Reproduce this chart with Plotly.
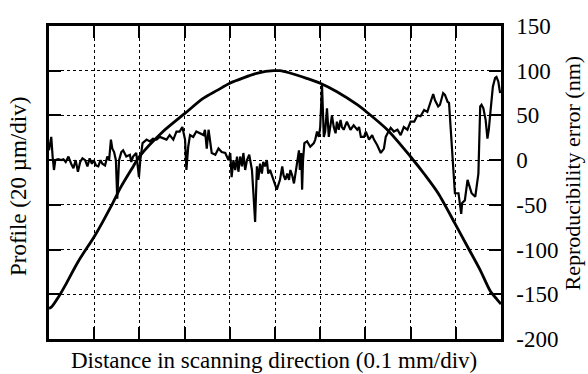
import plotly.graph_objects as go

# Profile curve (plotted in right-axis units), x in divisions (0.1 mm/div)
profile_x = [0.00, 0.06, 0.21, 0.36, 0.65, 1.02, 1.39, 1.58, 1.84, 2.00, 2.50, 3.00, 3.41, 3.72,
             4.00, 4.30, 4.64, 4.97, 5.11, 5.31, 5.70, 6.00, 6.37, 6.82, 7.00, 7.49, 8.00, 8.32,
             8.61, 8.98, 9.26, 9.54, 9.77, 9.91, 10.00]
profile_y = [-166, -164, -153, -140, -113, -84, -50, -31, -9, 4, 31, 52, 69, 78,
             86, 92, 97.7, 100, 100, 97.7, 91.5, 86, 76.5, 62, 55, 33.7, 3.8, -16.6,
             -37, -70.7, -96.8, -122.9, -147, -155.6, -161]

# Reproducibility error (nm)
error_x = [0.00, 0.03, 0.05, 0.08, 0.11, 0.14, 0.20, 0.27, 0.32, 0.37, 0.43, 0.49, 0.54, 0.59,
           0.64, 0.69, 0.74, 0.80, 0.85, 0.90, 0.95, 0.99, 1.04, 1.09, 1.14, 1.18, 1.24, 1.29,
           1.33, 1.37, 1.40, 1.44, 1.48, 1.51, 1.55, 1.60, 1.64, 1.71, 1.79, 1.82, 1.86, 1.93,
           1.99, 2.02, 2.07, 2.16, 2.23, 2.30, 2.38, 2.45, 2.53, 2.60, 2.67, 2.75, 2.82, 2.89,
           2.95, 3.01, 3.04, 3.08, 3.12, 3.19, 3.26, 3.34, 3.42, 3.45, 3.49, 3.53, 3.56, 3.60,
           3.68, 3.75, 3.82, 3.90, 3.97, 4.01, 4.04, 4.08, 4.12, 4.16, 4.19, 4.23, 4.27, 4.30,
           4.34, 4.38, 4.43, 4.49, 4.52, 4.56, 4.60, 4.63, 4.67, 4.71, 4.74, 4.78, 4.82, 4.85,
           4.89, 4.93, 4.96, 5.00, 5.04, 5.11, 5.16, 5.19, 5.23, 5.27, 5.31, 5.34, 5.38, 5.42,
           5.45, 5.49, 5.53, 5.55, 5.58, 5.60, 5.62, 5.65, 5.71, 5.78, 5.86, 5.89, 5.93, 5.97,
           6.00, 6.04, 6.08, 6.11, 6.15, 6.19, 6.23, 6.26, 6.30, 6.34, 6.37, 6.41, 6.45, 6.48,
           6.52, 6.59, 6.67, 6.74, 6.82, 6.86, 6.90, 6.97, 7.01, 7.04, 7.08, 7.15, 7.19, 7.26,
           7.34, 7.41, 7.45, 7.49, 7.56, 7.63, 7.71, 7.78, 7.85, 7.93, 8.00, 8.08, 8.15, 8.22,
           8.30, 8.37, 8.45, 8.50, 8.54, 8.61, 8.65, 8.72, 8.76, 8.82, 8.85, 8.91, 8.95, 8.98,
           9.06, 9.12, 9.14, 9.20, 9.26, 9.31, 9.35, 9.43, 9.46, 9.50, 9.54, 9.57, 9.61, 9.66,
           9.70, 9.73, 9.77, 9.82, 9.87, 9.90, 9.94, 9.98]
error_y = [11, 19, 26, 4, -11, 0, 1, 0, 1, -2, 4, -4, -9, 0,
           -13, -2, 2, 0, -7, 2, -4, 0, -6, -7, 0, -4, -6, 4,
           0, 23, 13, 9, 0, -43, 0, 9, 11, 4, 6, -2, 4, 8,
           -19, 0, 19, 23, 21, 24, 23, 26, 24, 23, 28, 23, 32, 32,
           37, 23, -11, 15, 28, 26, 32, 30, 28, 34, 13, 34, 23, 8,
           6, 13, 9, 8, 0, 8, -19, 0, -11, 4, -13, 4, -7, 8,
           -11, 0, 6, -11, -35, -69, -7, -22, -4, -15, -2, -7, 0, -15,
           -11, -17, -19, -26, -33, -22, -7, -17, -22, -15, -22, -11, -17, -26,
           -15, 0, 11, -11, 8, -33, 0, 19, 21, 15, 19, 23, 32, 26,
           37, 84, 26, 32, 58, 26, 41, 50, 37, 30, 43, 34, 45, 37,
           34, 43, 34, 39, 34, 37, 26, 26, 32, 28, 23, 28, 23, 17,
           8, 13, 26, 30, 36, 32, 34, 28, 37, 34, 43, 43, 50, 49,
           56, 54, 67, 74, 67, 60, 62, 75, 73, 65, 64, 11, -22, -37,
           -37, -60, -48, -45, -22, -30, -37, -41, -30, -15, 60, 62, 58, 45,
           24, 34, 56, 82, 92, 93, 88, 75]

x_ticks = list(range(0, 11))
y_ticks = [150, 100, 50, 0, -50, -100, -150, -200]
y_tick_labels = ["150", "100", "50", "0", "-50", "-100", "-150", "-200"]

FONT = "Liberation Serif"

fig = go.Figure()
fig.add_trace(go.Scatter(x=profile_x, y=profile_y, mode="lines",
                         line=dict(color="black", width=2.8, shape="spline", smoothing=0.8),
                         hoverinfo="skip"))
fig.add_trace(go.Scatter(x=error_x, y=error_y, mode="lines",
                         line=dict(color="black", width=2.2),
                         hoverinfo="skip"))

fig.update_layout(
    width=588, height=374,
    margin=dict(l=49, r=87, t=26, b=35),
    paper_bgcolor="white", plot_bgcolor="white",
    showlegend=False,
    font=dict(family=FONT, size=23, color="black"),
)

fig.update_xaxes(
    range=[0, 10], tickvals=x_ticks, showticklabels=False,
    ticks="inside", ticklen=12, tickwidth=2, tickcolor="black",
    showline=True, linewidth=2.5, linecolor="black", mirror="ticks",
    showgrid=True, gridcolor="black", gridwidth=1, griddash="3px,3px",
    zeroline=False,
)
fig.update_yaxes(
    range=[-200, 150], side="right", tickvals=y_ticks, ticktext=y_tick_labels,
    ticks="inside", ticklen=12, tickwidth=2, tickcolor="black",
    ticklabelstandoff=8,
    tickfont=dict(family=FONT, size=23, color="black"),
    showline=True, linewidth=2.5, linecolor="black", mirror="ticks",
    showgrid=True, gridcolor="black", gridwidth=1, griddash="3px,3px",
    zeroline=False,
)

fig.add_annotation(text="Distance in scanning direction (0.1 mm/div)",
                   xref="paper", yref="paper", x=0.497, y=-0.070,
                   xanchor="center", yanchor="middle", showarrow=False,
                   font=dict(family=FONT, size=23, color="black"))
fig.add_annotation(text="Profile (20 \u00b5m/div)",
                   xref="paper", yref="paper", x=-0.066, y=0.486,
                   xanchor="center", yanchor="middle", showarrow=False, textangle=-90,
                   font=dict(family=FONT, size=23, color="black"))
fig.add_annotation(text="Reproducibility error (nm)",
                   xref="paper", yref="paper", x=1.158, y=0.530,
                   xanchor="center", yanchor="middle", showarrow=False, textangle=-90,
                   font=dict(family=FONT, size=22, color="black"))

fig.write_html("out.html")
